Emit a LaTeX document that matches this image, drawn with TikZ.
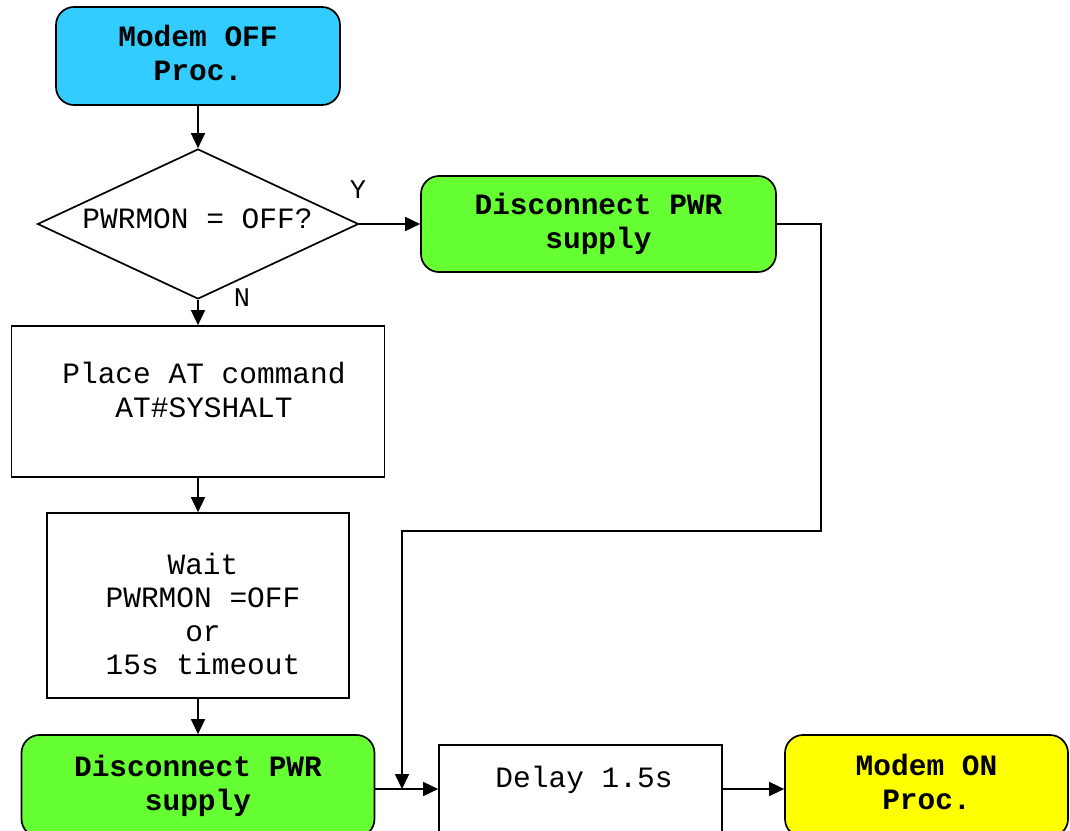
\documentclass[tikz,border=0pt]{standalone}
\usepackage{fontspec}
\setmonofont{Liberation Mono}
\usetikzlibrary{shapes.geometric,arrows.meta}
\definecolor{cyanbox}{HTML}{33CCFF}
\definecolor{greenbox}{HTML}{66FF33}
\definecolor{yellowbox}{HTML}{FFFF00}
\begin{document}
\begin{tikzpicture}[x=1pt,y=-1pt,
  every node/.style={font=\ttfamily\fontsize{29.5}{33.5}\selectfont,align=center},
  box/.style={draw,line width=1.7pt,inner sep=0pt,align=center},
  rbox/.style={box,rounded corners=18pt,font=\ttfamily\bfseries\fontsize{29.5}{34}\selectfont},
  arr/.style={line width=1.7pt,-{Triangle[length=15pt,width=14pt]}},
  lbl/.style={font=\ttfamily\fontsize{27}{30}\selectfont}]
\useasboundingbox (0,0) rectangle (1070,830);
\clip (0,0) rectangle (1070,830);

\node[rbox,fill=cyanbox,minimum width=284pt,minimum height=98pt] (off) at (198,56) {};
\node (offt) at (198,53) {\bfseries Modem OFF\\\bfseries Proc.};
\node[diamond,draw,line width=1.7pt,aspect=2.14,minimum width=321pt,minimum height=150pt,inner sep=0pt] (dec) at (198,224) {};
\node (dect) at (197.5,219) {PWRMON = OFF?};
\node[rbox,fill=greenbox,minimum width=355pt,minimum height=96pt] (dis1) at (598.5,224) {Disconnect PWR\\supply};

\node[box,minimum width=373pt,minimum height=151pt] (place) at (198,401.5) {};
\node (placet) at (204,390) {Place AT command\\AT\#SYSHALT};

\node[box,minimum width=302pt,minimum height=185pt] (wait) at (198,605.5) {};
\node (waitt) at (203,614) {Wait\\PWRMON =OFF\\or\\15s timeout};

\node[rbox,fill=greenbox,minimum width=353pt,minimum height=102pt] (dis2) at (198,786) {Disconnect PWR\\supply};
\node[box,minimum width=283pt,minimum height=100pt,anchor=north] (delay) at (580.5,744) {};
\node (delayt) at (584,780) {Delay 1.5s};
\node[rbox,fill=yellowbox,minimum width=283pt,minimum height=102pt] (on) at (926.5,786) {};
\node (ont) at (926.5,782) {\bfseries Modem ON\\\bfseries Proc.};

\node[lbl] (ylbl) at (358,190) {Y};
\node[lbl] (nlbl) at (242,298) {N};

\coordinate (c1) at (821,531);
\coordinate (j) at (402,789);

\draw[arr] (off.south) -- (dec.north);
\draw[arr] (dec.east) -- (dis1.west);
\draw[arr] (dec.south) -- (place.north);
\draw[arr] (place.south) -- (wait.north);
\draw[arr] (wait.south) -- (dis2.north);
\draw[arr] (dis1.east) -| (c1) -| (j);
\draw[arr] (dis2.east |- j) -- (delay.west |- j);
\draw[arr] (delay.east |- j) -- (on.west |- j);
\end{tikzpicture}
\end{document}
